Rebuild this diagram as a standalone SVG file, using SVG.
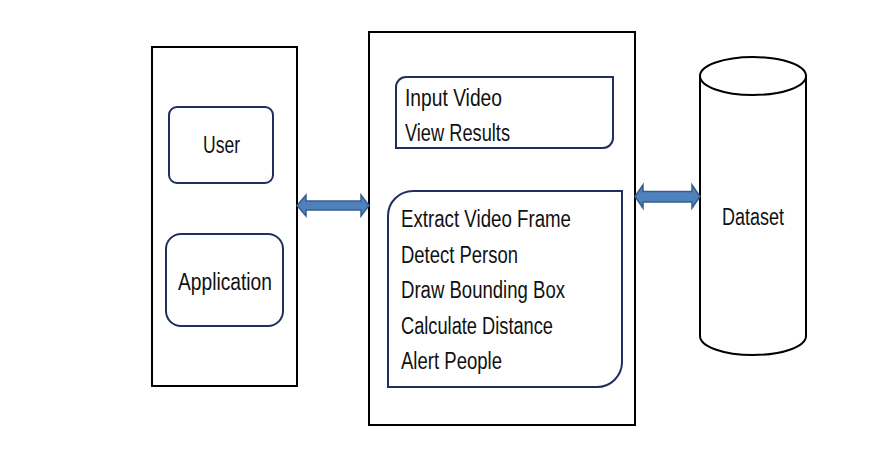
<svg xmlns="http://www.w3.org/2000/svg" width="882" height="465" viewBox="0 0 882 465">
<style>
.outer{fill:#fff;stroke:#000;stroke-width:2}
.inner{fill:#fff;stroke:#1f2f5f;stroke-width:2}
.t{font-family:"Liberation Sans Narrow","Liberation Sans",Arial,sans-serif;font-size:23px;fill:#111}
.arrow{fill:#4f81bd;stroke:#385d8a;stroke-width:1.5}
</style>
<rect width="882" height="465" fill="#fff"/>
<g id="client">
<rect class="outer" x="152" y="47" width="145" height="339"/>
</g>
<g id="user">
<rect class="inner" x="169" y="107" width="104" height="76" rx="8"/>
<text class="t" x="203" y="153" textLength="37" lengthAdjust="spacingAndGlyphs">User</text>
</g>
<g id="application">
<rect class="inner" x="166" y="234" width="117" height="92" rx="15"/>
<text class="t" x="178" y="290" textLength="94" lengthAdjust="spacingAndGlyphs">Application</text>
</g>
<g id="server">
<rect class="outer" x="369" y="32" width="266" height="393"/>
</g>
<g id="ui">
<path class="inner" d="M406,77 H613 V138 A10,10 0 0 1 603,148 H396 V87 A10,10 0 0 1 406,77 Z"/>
<text class="t" x="405" y="106" textLength="97" lengthAdjust="spacingAndGlyphs">Input Video</text>
<text class="t" x="405" y="141" textLength="105" lengthAdjust="spacingAndGlyphs">View Results</text>
</g>
<g id="processing">
<path class="inner" d="M413,191 H622 V362 A25,25 0 0 1 597,387 H388 V216 A25,25 0 0 1 413,191 Z"/>
<text class="t" x="401" y="227" textLength="170" lengthAdjust="spacingAndGlyphs">Extract Video Frame</text>
<text class="t" x="401" y="263" textLength="117" lengthAdjust="spacingAndGlyphs">Detect Person</text>
<text class="t" x="401" y="298" textLength="164" lengthAdjust="spacingAndGlyphs">Draw Bounding Box</text>
<text class="t" x="401" y="334" textLength="152" lengthAdjust="spacingAndGlyphs">Calculate Distance</text>
<text class="t" x="401" y="369" textLength="101" lengthAdjust="spacingAndGlyphs">Alert People</text>
</g>
<g id="dataset">
<path class="outer" d="M700,76 V336 A53,19 0 0 0 806,336 V76"/>
<ellipse class="outer" cx="753" cy="76" rx="53" ry="19"/>
<text class="t" x="722" y="225" textLength="62" lengthAdjust="spacingAndGlyphs">Dataset</text>
</g>
<g id="connectors">
<path class="arrow" d="M297,205.5 L306,195 V201 H361 V195 L369,205.5 L361,216 V210 H306 V216 Z"/>
<path class="arrow" d="M635,196.5 L643,185 V191.5 H692 V185 L700,196.5 L692,208 V202 H643 V208 Z"/>
</g>
</svg>
